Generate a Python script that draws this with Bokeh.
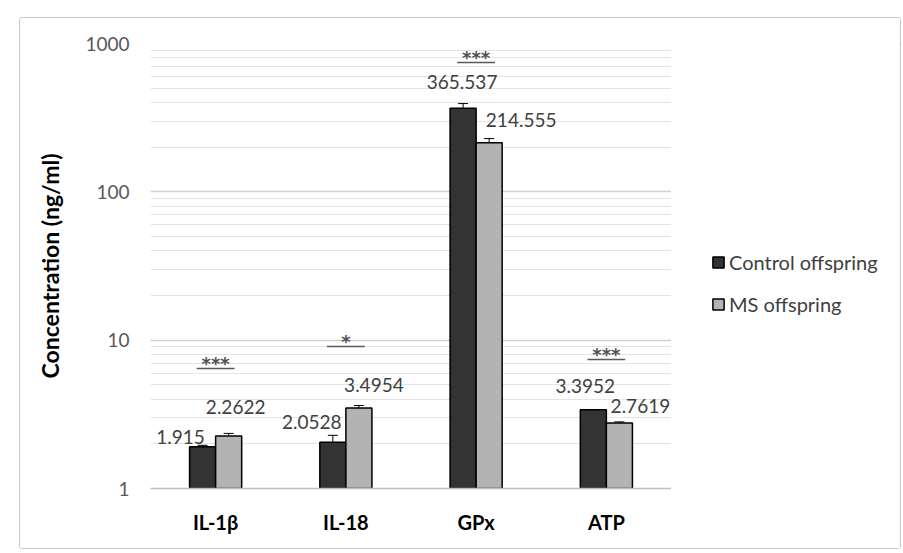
from bokeh.plotting import figure
from bokeh.models import (FactorRange, ColumnDataSource, Whisker, TeeHead, FixedTicker,
                          Legend, LegendItem, Range1d, PrintfTickFormatter, Spacer)
from bokeh.layouts import column, row
from bokeh.transform import dodge
from bokeh.core.properties import value
from bokeh.embed import file_html
from bokeh.resources import INLINE

# ---------------- data ----------------
categories = ["IL-1β", "IL-18", "GPx", "ATP"]
series_names = ["Control offspring", "MS offspring"]
control = [1.915, 2.0528, 365.537, 3.3952]
ms = [2.2622, 3.4954, 214.555, 2.7619]
control_err = [0.04, 0.23, 28.0, 0.01]
ms_err = [0.09, 0.13, 14.0, 0.05]
sig_marks = ["***", "*", "***", "***"]
sig_level = [6.45, 9.07, 746.0, 7.41]
y_ticks = [1, 10, 100, 1000]

# ---------------- style ----------------
FONT = "Lato"
CTRL_COLOR = "#333333"
MS_COLOR = "#b3b3b3"
TXT = "#404040"
# label offsets (pixels) relative to bar top / bar centre
ctrl_dx = [-22, -21, -1, -8]
ctrl_dy = [-10, -20, -26, -24]
ms_dx = [7, 15, 32, 21]
ms_dy = [-29, -23, -23, -17]

src = ColumnDataSource(dict(
    cat=categories,
    control=control, ms=ms,
    c_up=[v + e for v, e in zip(control, control_err)],
    c_lo=[v - e for v, e in zip(control, control_err)],
    m_up=[v + e for v, e in zip(ms, ms_err)],
    m_lo=[v - e for v, e in zip(ms, ms_err)],
    c_lab=[f"{v:g}" for v in control],
    m_lab=[f"{v:g}" for v in ms],
    c_dx=ctrl_dx, c_dy=ctrl_dy, m_dx=ms_dx, m_dy=ms_dy,
    sig=sig_marks, sig_y=sig_level,
))

p = figure(width=651, height=530, x_range=FactorRange(*categories),
           y_axis_type="log", y_range=Range1d(1, 1000),
           output_backend="svg", toolbar_location=None,
           min_border_left=130, min_border_right=0,
           min_border_top=25, min_border_bottom=60)
p.outline_line_color = None
p.background_fill_color = "white"
p.border_fill_color = "white"

x_ctrl = dodge("cat", -0.1, range=p.x_range)
x_ms = dodge("cat", 0.1, range=p.x_range)

bar_c = dict(fill_color=CTRL_COLOR, line_color="black", line_width=1.5)
bar_m = dict(fill_color=MS_COLOR, line_color="black", line_width=1.5)

p.vbar(x=x_ctrl, top="control", bottom=1, width=0.2, source=src, **bar_c)
p.vbar(x=x_ms, top="ms", bottom=1, width=0.2, source=src, **bar_m)

for base, up, lo in ((x_ctrl, "c_up", "c_lo"), (x_ms, "m_up", "m_lo")):
    w = Whisker(base=base, upper=up, lower=lo, source=src,
                line_color="black", line_width=1,
                upper_head=TeeHead(size=10, line_color="black", line_width=1),
                lower_head=TeeHead(size=10, line_color="black", line_width=1))
    p.add_layout(w)

p.text(x=x_ctrl, y="control", text="c_lab", x_offset="c_dx", y_offset="c_dy", source=src,
       text_font=value(FONT), text_font_size="19px", text_color=TXT,
       text_align="center", text_baseline="middle")
p.text(x=x_ms, y="ms", text="m_lab", x_offset="m_dx", y_offset="m_dy", source=src,
       text_font=value(FONT), text_font_size="19px", text_color=TXT,
       text_align="center", text_baseline="middle")

# significance markers
p.segment(x0=dodge("cat", -0.145, range=p.x_range), x1=dodge("cat", 0.145, range=p.x_range),
          y0="sig_y", y1="sig_y", source=src, line_color="#595959", line_width=1.5)
p.text(x=dodge("cat", 0.0, range=p.x_range), y="sig_y", text="sig", source=src,
       text_font=value("DejaVu Sans"), text_font_style="bold", text_font_size="18px",
       text_color="#505050", text_align="center", text_baseline="middle", y_offset=-5)

# axes & grid
minor = [m * t for t in y_ticks[:-1] for m in range(2, 10)]
p.yaxis.ticker = FixedTicker(ticks=y_ticks, minor_ticks=minor)
p.yaxis.formatter = PrintfTickFormatter(format="%d")
p.yaxis.axis_line_color = None
p.yaxis.major_tick_line_color = None
p.yaxis.minor_tick_line_color = None
p.yaxis.major_label_text_font = FONT
p.yaxis.major_label_text_font_size = "19px"
p.yaxis.major_label_text_color = "#595959"
p.yaxis.major_label_standoff = 15
p.yaxis.axis_label = "Concentration (ng/ml)"
p.yaxis.axis_label_text_font = FONT
p.yaxis.axis_label_text_font_style = "bold"
p.yaxis.axis_label_text_font_size = "23px"
p.yaxis.axis_label_text_color = "black"
p.yaxis.axis_label_standoff = 18

p.xaxis.axis_line_color = "#bfbfbf"
p.xaxis.axis_line_width = 1.5
p.xaxis.major_tick_line_color = None
p.xaxis.minor_tick_line_color = None
p.xaxis.major_tick_out = 0
p.xaxis.major_label_standoff = 21
p.xaxis.major_label_text_font = FONT
p.xaxis.major_label_text_font_style = "bold"
p.xaxis.major_label_text_font_size = "20px"
p.xaxis.major_label_text_color = "black"

p.xgrid.grid_line_color = None
p.ygrid.grid_line_color = "#d0d0d0"
p.ygrid.grid_line_width = 1.5
p.ygrid.minor_grid_line_color = "#e4e4e4"
p.ygrid.minor_grid_line_width = 1

# ---------------- legend panel (separate figure, to the right) ----------------
pl = figure(width=229, height=530, x_range=Range1d(0, 1), y_range=Range1d(0, 1),
            output_backend="svg", toolbar_location=None, min_border=0)
pl.axis.visible = False
pl.grid.visible = False
pl.outline_line_color = None
# proxy renderers lying outside the visible range; they only feed the legend swatches
lc = pl.vbar(x=[5], top=[5], bottom=[4], width=0.1, **bar_c)
lm = pl.vbar(x=[5], top=[5], bottom=[4], width=0.1, **bar_m)
legend = Legend(items=[LegendItem(label=series_names[0], renderers=[lc]),
                       LegendItem(label=series_names[1], renderers=[lm])],
                location=(40, 172), glyph_width=14, glyph_height=14,
                label_height=25, spacing=17, padding=0, margin=0,
                label_standoff=4, border_line_color=None, background_fill_alpha=0,
                label_text_font=FONT, label_text_font_size="20px", label_text_color=TXT)
pl.add_layout(legend)

chart = row(p, pl)
chart.styles = {"border": "1px solid #c8c8c8", "border-radius": "3px"}
layout = column(Spacer(height=17), row(Spacer(width=19), chart))
open("out.html", "w").write(file_html(layout, INLINE))
